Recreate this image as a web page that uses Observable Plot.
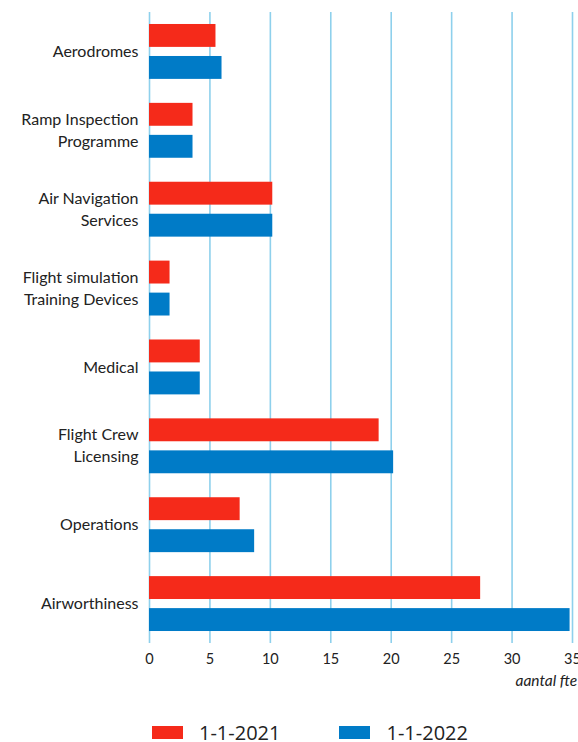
<!DOCTYPE html>
<html>
<head>
<meta charset="utf-8">
<script src="https://cdn.jsdelivr.net/npm/d3@7"></script>
<script src="https://cdn.jsdelivr.net/npm/@observablehq/plot@0.6"></script>
<style>
  body { margin: 0; background: #fff; font-family: Lato, "Open Sans", sans-serif; overflow: hidden; }
  #legend { display: flex; align-items: center; height: 40px; margin-top: 12px; padding-left: 152px; color: #222; font-size: 20px; font-family: "Open Sans", Lato, sans-serif; }
  .sw { display: inline-block; width: 31px; height: 13px; margin-right: 16px; }
  .item { display: flex; align-items: center; }
  .item + .item { margin-left: 59px; }
</style>
</head>
<body>
<div id="chart"></div>
<div id="legend"></div>
<script>
const categories = [
  "Aerodromes",
  "Ramp Inspection\nProgramme",
  "Air Navigation\nServices",
  "Flight simulation\nTraining Devices",
  "Medical",
  "Flight Crew\nLicensing",
  "Operations",
  "Airworthiness"
];
const series = ["1-1-2021", "1-1-2022"];
const values2021 = [5.5, 3.6, 10.2, 1.7, 4.2, 19.0, 7.5, 27.4];
const values2022 = [6.0, 3.6, 10.2, 1.7, 4.2, 20.2, 8.7, 34.8];
const xTicks = [0, 5, 10, 15, 20, 25, 30, 35];
const axisLabel = "aantal fte";
const colors = ["#f52a1a", "#007bc7"];

const d2021 = categories.map((c, i) => ({category: c, value: values2021[i]}));
const d2022 = categories.map((c, i) => ({category: c, value: values2022[i]}));

const chart = Plot.plot({
  width: 578,
  height: 700,
  marginLeft: 149,
  marginRight: 6,
  marginTop: 12,
  marginBottom: 57,
  style: {fontFamily: "Lato, 'Open Sans', sans-serif", color: "#222", background: "#fff"},
  x: {domain: [0, 35]},
  y: {type: "band", domain: categories, paddingInner: 0.304, paddingOuter: 0.152, round: false},
  marks: [
    Plot.gridX(xTicks, {stroke: "#8ed0ec", strokeOpacity: 1, strokeWidth: 1.6}),
    Plot.barX(d2021, {x: "value", y: "category", fill: colors[0], insetBottom: 32}),
    Plot.barX(d2022, {x: "value", y: "category", fill: colors[1], insetTop: 32}),
    Plot.axisX({ticks: xTicks, tickSize: 0, tickPadding: 10, fontSize: 14.5, label: null}),
    Plot.axisY({tickSize: 0, tickPadding: 11, fontSize: 16, lineHeight: 1.38, dy: -2, label: null}),
    Plot.text([axisLabel], {frameAnchor: "bottom-right", textAnchor: "start", dx: -57, dy: 42, fontSize: 15.5, fontStyle: "italic", fill: "#222"})
  ]
});
document.getElementById("chart").appendChild(chart);

const legend = document.getElementById("legend");
series.forEach((s, i) => {
  const item = document.createElement("div");
  item.className = "item";
  const sw = document.createElement("span");
  sw.className = "sw";
  sw.style.background = colors[i];
  const t = document.createElement("span");
  t.textContent = s;
  item.appendChild(sw);
  item.appendChild(t);
  legend.appendChild(item);
});
</script>
</body>
</html>
